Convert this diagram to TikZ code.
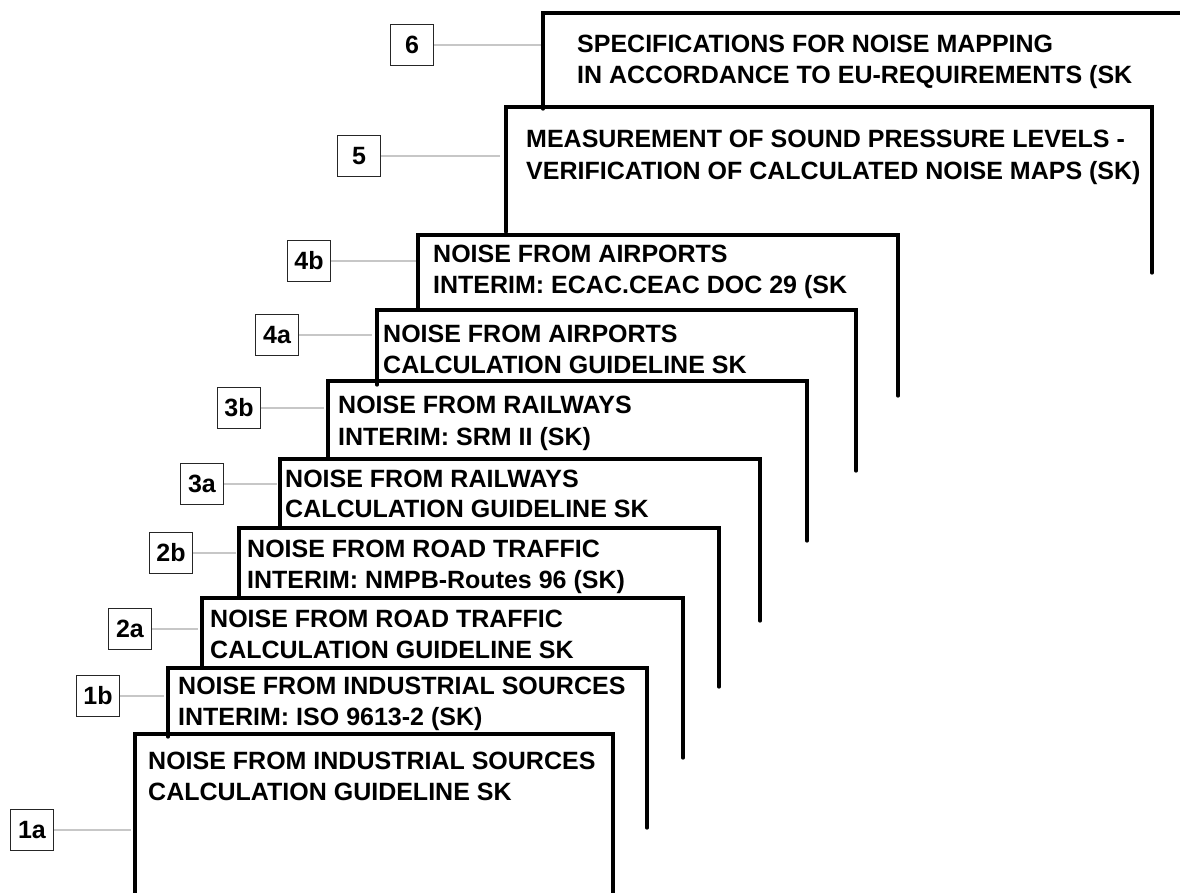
\documentclass[tikz,border=0pt]{standalone}
\usepackage{fontspec}
\setmainfont{Liberation Sans}
\begin{document}
\begin{tikzpicture}[x=1pt,y=-1pt,
  sheet/.style={line width=3.3pt, line cap=round, line join=miter},
  lbl/.style={draw=black!85, line width=1.2pt, minimum width=43pt, minimum height=41pt, inner sep=0pt, font=\fontsize{25}{30}\selectfont\bfseries},
  conn/.style={draw=black!22, line width=1.3pt},
  txt/.style={anchor=base west, inner sep=0pt, font=\fontsize{25}{30}\selectfont\bfseries}]
\useasboundingbox (0,0) rectangle (1180,893);
\fill[white] (0,0) rectangle (1180,893);

% sheets: left bottom, top left, top right, right bottom
\coordinate (s6bl) at (543,109); \coordinate (s6tl) at (543,13); \coordinate (s6tr) at (1182,13);
\draw[sheet] (s6bl) -- (s6tl) -- (s6tr);
\coordinate (s5bl) at (506,232); \coordinate (s5tl) at (506,107); \coordinate (s5tr) at (1152,107); \coordinate (s5br) at (1152,273);
\draw[sheet] (s5bl) -- (s5tl) -- (s5tr) -- (s5br);
\coordinate (s4bbl) at (418,309); \coordinate (s4btl) at (418,235); \coordinate (s4btr) at (898,235); \coordinate (s4bbr) at (898,396);
\draw[sheet] (s4bbl) -- (s4btl) -- (s4btr) -- (s4bbr);
\coordinate (s4abl) at (377,385); \coordinate (s4atl) at (377,310); \coordinate (s4atr) at (856,310); \coordinate (s4abr) at (856,471);
\draw[sheet] (s4abl) -- (s4atl) -- (s4atr) -- (s4abr);
\coordinate (s3bbl) at (328,458); \coordinate (s3btl) at (328,381); \coordinate (s3btr) at (807,381); \coordinate (s3bbr) at (807,541);
\draw[sheet] (s3bbl) -- (s3btl) -- (s3btr) -- (s3bbr);
\coordinate (s3abl) at (280,528); \coordinate (s3atl) at (280,459); \coordinate (s3atr) at (760,459); \coordinate (s3abr) at (760,621);
\draw[sheet] (s3abl) -- (s3atl) -- (s3atr) -- (s3abr);
\coordinate (s2bbl) at (239,598); \coordinate (s2btl) at (239,528); \coordinate (s2btr) at (719,528); \coordinate (s2bbr) at (719,687);
\draw[sheet] (s2bbl) -- (s2btl) -- (s2btr) -- (s2bbr);
\coordinate (s2abl) at (202,667); \coordinate (s2atl) at (202,598); \coordinate (s2atr) at (683,598); \coordinate (s2abr) at (683,758);
\draw[sheet] (s2abl) -- (s2atl) -- (s2atr) -- (s2abr);
\coordinate (s1bbl) at (168,737); \coordinate (s1btl) at (168,668); \coordinate (s1btr) at (647,668); \coordinate (s1bbr) at (647,828);
\draw[sheet] (s1bbl) -- (s1btl) -- (s1btr) -- (s1bbr);
\coordinate (s1abl) at (135,896); \coordinate (s1atl) at (135,734); \coordinate (s1atr) at (613,734); \coordinate (s1abr) at (613,896);
\draw[sheet] (s1abl) -- (s1atl) -- (s1atr) -- (s1abr);

% sheet texts
\node[txt] (t6a) at (577,53) {SPECIFICATIONS FOR NOISE MAPPING};
\node[txt] (t6b) at (577,84) {IN ACCORDANCE TO EU-REQUIREMENTS (SK};
\node[txt] (t5a) at (526,148) {MEASUREMENT OF SOUND PRESSURE LEVELS -};
\node[txt] (t5b) at (526,180) {VERIFICATION OF CALCULATED NOISE MAPS (SK)};
\node[txt] (t4ba) at (433,262) {NOISE FROM AIRPORTS};
\node[txt] (t4bb) at (433,293) {INTERIM: ECAC.CEAC DOC 29 (SK};
\node[txt] (t4aa) at (383,342) {NOISE FROM AIRPORTS};
\node[txt] (t4ab) at (383,373) {CALCULATION GUIDELINE SK};
\node[txt] (t3ba) at (338,413) {NOISE FROM RAILWAYS};
\node[txt] (t3bb) at (338,445) {INTERIM: SRM II (SK)};
\node[txt] (t3aa) at (285,487) {NOISE FROM RAILWAYS};
\node[txt] (t3ab) at (285,517) {CALCULATION GUIDELINE SK};
\node[txt] (t2ba) at (247,557) {NOISE FROM ROAD TRAFFIC};
\node[txt] (t2bb) at (247,588) {INTERIM: NMPB-Routes 96 (SK)};
\node[txt] (t2aa) at (210,627) {NOISE FROM ROAD TRAFFIC};
\node[txt] (t2ab) at (210,658) {CALCULATION GUIDELINE SK};
\node[txt] (t1ba) at (178,694) {NOISE FROM INDUSTRIAL SOURCES};
\node[txt] (t1bb) at (178,725) {INTERIM: ISO 9613-2 (SK)};
\node[txt] (t1aa) at (148,769) {NOISE FROM INDUSTRIAL SOURCES};
\node[txt] (t1ab) at (148,800) {CALCULATION GUIDELINE SK};

% label boxes
\node[lbl] (l6) at (412,45) {6};
\node[lbl] (l5) at (359,156) {5};
\node[lbl] (l4b) at (309,261) {4b};
\node[lbl] (l4a) at (277,335) {4a};
\node[lbl] (l3b) at (239,408) {3b};
\node[lbl] (l3a) at (202,484) {3a};
\node[lbl] (l2b) at (171,553) {2b};
\node[lbl] (l2a) at (130,629) {2a};
\node[lbl] (l1b) at (98,696) {1b};
\node[lbl] (l1a) at (32,830) {1a};

% connector ends
\coordinate (c6) at (541,0);
\coordinate (c5) at (500,0);
\coordinate (c4b) at (416,0);
\coordinate (c4a) at (372,0);
\coordinate (c3b) at (324,0);
\coordinate (c3a) at (277,0);
\coordinate (c2b) at (236,0);
\coordinate (c2a) at (198,0);
\coordinate (c1b) at (164,0);
\coordinate (c1a) at (131,0);
\foreach \n in {6,5,4b,4a,3b,3a,2b,2a,1b,1a}{
  \draw[conn] (l\n.east) -- (l\n.east -| c\n);
}
\end{tikzpicture}
\end{document}
